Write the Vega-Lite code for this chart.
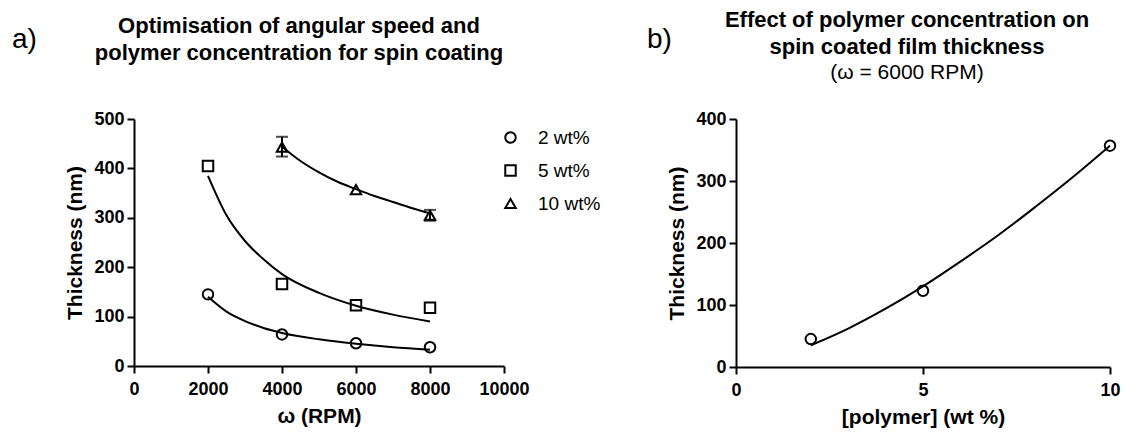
{
  "$schema": "https://vega.github.io/schema/vega-lite/v6.json",
  "padding": {"left": 12, "top": 9, "right": 5, "bottom": 5},
  "background": "white",
  "bounds": "flush",
  "config": {
    "font": "Liberation Sans",
    "view": {"stroke": null},
    "axis": {
      "grid": false,
      "domainColor": "black",
      "domainWidth": 2,
      "tickColor": "black",
      "tickWidth": 2,
      "tickSize": 7,
      "labelColor": "black",
      "labelFontWeight": "bold",
      "labelFontSize": 18,
      "titleColor": "black",
      "titleFontWeight": "bold",
      "titleFontSize": 21
    },
    "axisX": {"labelPadding": 7, "titlePadding": 7},
    "axisY": {"labelPadding": 3, "titlePadding": 8},
    "title": {"color": "black", "fontSize": 22, "fontWeight": "bold", "lineHeight": 27, "subtitleFontSize": 21, "subtitleColor": "black", "subtitleFontWeight": "normal"},
    "legend": {"labelFontSize": 19, "labelColor": "black", "symbolStrokeColor": "black", "symbolStrokeWidth": 2, "symbolSize": 110, "rowPadding": 13, "labelOffset": 18}
  },
  "datasets": {
    "pointsA": [
      {"rpm": 2000, "thickness": 145, "series": "2 wt%"},
      {"rpm": 4000, "thickness": 64, "series": "2 wt%"},
      {"rpm": 6000, "thickness": 46, "series": "2 wt%"},
      {"rpm": 8000, "thickness": 38, "series": "2 wt%"},
      {"rpm": 2000, "thickness": 405, "series": "5 wt%"},
      {"rpm": 4000, "thickness": 166, "series": "5 wt%"},
      {"rpm": 6000, "thickness": 123, "series": "5 wt%"},
      {"rpm": 8000, "thickness": 118, "series": "5 wt%"},
      {"rpm": 4000, "thickness": 443, "series": "10 wt%"},
      {"rpm": 6000, "thickness": 357, "series": "10 wt%"},
      {"rpm": 8000, "thickness": 305, "series": "10 wt%"}
    ],
    "errA": [
      {"rpm": 4000, "lo": 424, "hi": 464, "series": "10 wt%"},
      {"rpm": 8000, "lo": 294, "hi": 316, "series": "10 wt%"}
    ],
    "curvesA": [
      {"rpm": 2000, "fit": 140, "series": "2 wt%"},
      {"rpm": 2500, "fit": 110, "series": "2 wt%"},
      {"rpm": 3000, "fit": 91, "series": "2 wt%"},
      {"rpm": 3500, "fit": 77, "series": "2 wt%"},
      {"rpm": 4000, "fit": 67, "series": "2 wt%"},
      {"rpm": 5000, "fit": 54, "series": "2 wt%"},
      {"rpm": 6000, "fit": 45, "series": "2 wt%"},
      {"rpm": 7000, "fit": 38, "series": "2 wt%"},
      {"rpm": 8000, "fit": 33, "series": "2 wt%"},
      {"rpm": 2000, "fit": 385, "series": "5 wt%"},
      {"rpm": 2500, "fit": 305, "series": "5 wt%"},
      {"rpm": 3000, "fit": 253, "series": "5 wt%"},
      {"rpm": 3500, "fit": 216, "series": "5 wt%"},
      {"rpm": 4000, "fit": 186, "series": "5 wt%"},
      {"rpm": 5000, "fit": 148, "series": "5 wt%"},
      {"rpm": 6000, "fit": 122, "series": "5 wt%"},
      {"rpm": 7000, "fit": 104, "series": "5 wt%"},
      {"rpm": 8000, "fit": 90, "series": "5 wt%"},
      {"rpm": 4000, "fit": 444, "series": "10 wt%"},
      {"rpm": 4500, "fit": 415, "series": "10 wt%"},
      {"rpm": 5000, "fit": 392, "series": "10 wt%"},
      {"rpm": 5500, "fit": 373, "series": "10 wt%"},
      {"rpm": 6000, "fit": 358, "series": "10 wt%"},
      {"rpm": 6500, "fit": 344, "series": "10 wt%"},
      {"rpm": 7000, "fit": 332, "series": "10 wt%"},
      {"rpm": 7500, "fit": 320, "series": "10 wt%"},
      {"rpm": 8000, "fit": 309, "series": "10 wt%"}
    ],
    "pointsB": [
      {"conc": 2, "thickness": 45},
      {"conc": 5, "thickness": 123},
      {"conc": 10, "thickness": 357}
    ],
    "curveB": [
      {"conc": 2, "fit": 35},
      {"conc": 3, "fit": 62},
      {"conc": 4, "fit": 94},
      {"conc": 5, "fit": 130},
      {"conc": 6, "fit": 170},
      {"conc": 7, "fit": 212},
      {"conc": 8, "fit": 258},
      {"conc": 9, "fit": 306},
      {"conc": 10, "fit": 357}
    ]
  },
  "spacing": 0,
  "resolve": {"scale": {"x": "independent", "y": "independent", "shape": "independent"}},
  "hconcat": [
    {
      "width": 122,
      "height": 247,
      "title": {"text": "a)", "fontSize": 28, "fontWeight": "normal", "anchor": "start", "offset": 65},
      "data": {"values": [{"label": ""}]},
      "mark": {"type": "text"},
      "encoding": {"text": {"field": "label"}}
    },
    {
      "width": 370,
      "height": 247,
      "title": {"text": ["Optimisation of angular speed and", "polymer concentration for spin coating"], "offset": 45, "dx": -20},
      "layer": [
        {
          "data": {"name": "curvesA"},
          "mark": {"type": "line", "color": "black", "strokeWidth": 2, "interpolate": "monotone"},
          "encoding": {
            "x": {"field": "rpm", "type": "quantitative", "title": "ω (RPM)", "scale": {"domain": [0, 10000]}, "axis": {"values": [0, 2000, 4000, 6000, 8000, 10000], "format": "d", "labelFlush": false}},
            "y": {"field": "fit", "type": "quantitative", "title": "Thickness (nm)", "scale": {"domain": [0, 500]}, "axis": {"values": [0, 100, 200, 300, 400, 500]}},
            "detail": {"field": "series"}
          }
        },
        {
          "data": {"name": "errA"},
          "mark": {"type": "errorbar", "color": "black", "thickness": 2, "ticks": {"size": 12, "thickness": 2, "color": "black"}},
          "encoding": {
            "x": {"field": "rpm", "type": "quantitative", "title": "ω (RPM)"},
            "y": {"field": "lo", "type": "quantitative", "title": "Thickness (nm)"},
            "y2": {"field": "hi"}
          }
        },
        {
          "data": {"name": "pointsA"},
          "mark": {"type": "point", "filled": false, "stroke": "black", "strokeWidth": 2, "size": 110, "opacity": 1},
          "encoding": {
            "x": {"field": "rpm", "type": "quantitative", "title": "ω (RPM)"},
            "y": {"field": "thickness", "type": "quantitative", "title": "Thickness (nm)"},
            "shape": {
              "field": "series", "type": "nominal",
              "scale": {"domain": ["2 wt%", "5 wt%", "10 wt%"], "range": ["circle", "square", "triangle-up"]},
              "legend": {"title": null, "orient": "none", "legendX": 367, "legendY": 9}
            }
          }
        }
      ]
    },
    {
      "width": 232,
      "height": 248,
      "title": {"text": "b)", "fontSize": 28, "fontWeight": "normal", "anchor": "start", "offset": 65, "dx": 143},
      "data": {"values": [{"label": ""}]},
      "mark": {"type": "text"},
      "encoding": {"text": {"field": "label"}}
    },
    {
      "width": 374,
      "height": 248,
      "title": {"text": ["Effect of polymer concentration on", "spin coated film thickness"], "subtitle": "(ω = 6000 RPM)", "offset": 26, "dx": -16},
      "layer": [
        {
          "data": {"name": "curveB"},
          "mark": {"type": "line", "color": "black", "strokeWidth": 2, "interpolate": "monotone"},
          "encoding": {
            "x": {"field": "conc", "type": "quantitative", "title": "[polymer] (wt %)", "scale": {"domain": [0, 10]}, "axis": {"values": [0, 5, 10], "labelFlush": false}},
            "y": {"field": "fit", "type": "quantitative", "title": "Thickness (nm)", "scale": {"domain": [0, 400]}, "axis": {"values": [0, 100, 200, 300, 400]}}
          }
        },
        {
          "data": {"name": "pointsB"},
          "mark": {"type": "point", "shape": "circle", "filled": false, "stroke": "black", "strokeWidth": 2, "size": 110, "opacity": 1},
          "encoding": {
            "x": {"field": "conc", "type": "quantitative", "title": "[polymer] (wt %)"},
            "y": {"field": "thickness", "type": "quantitative", "title": "Thickness (nm)"}
          }
        }
      ]
    }
  ]
}
